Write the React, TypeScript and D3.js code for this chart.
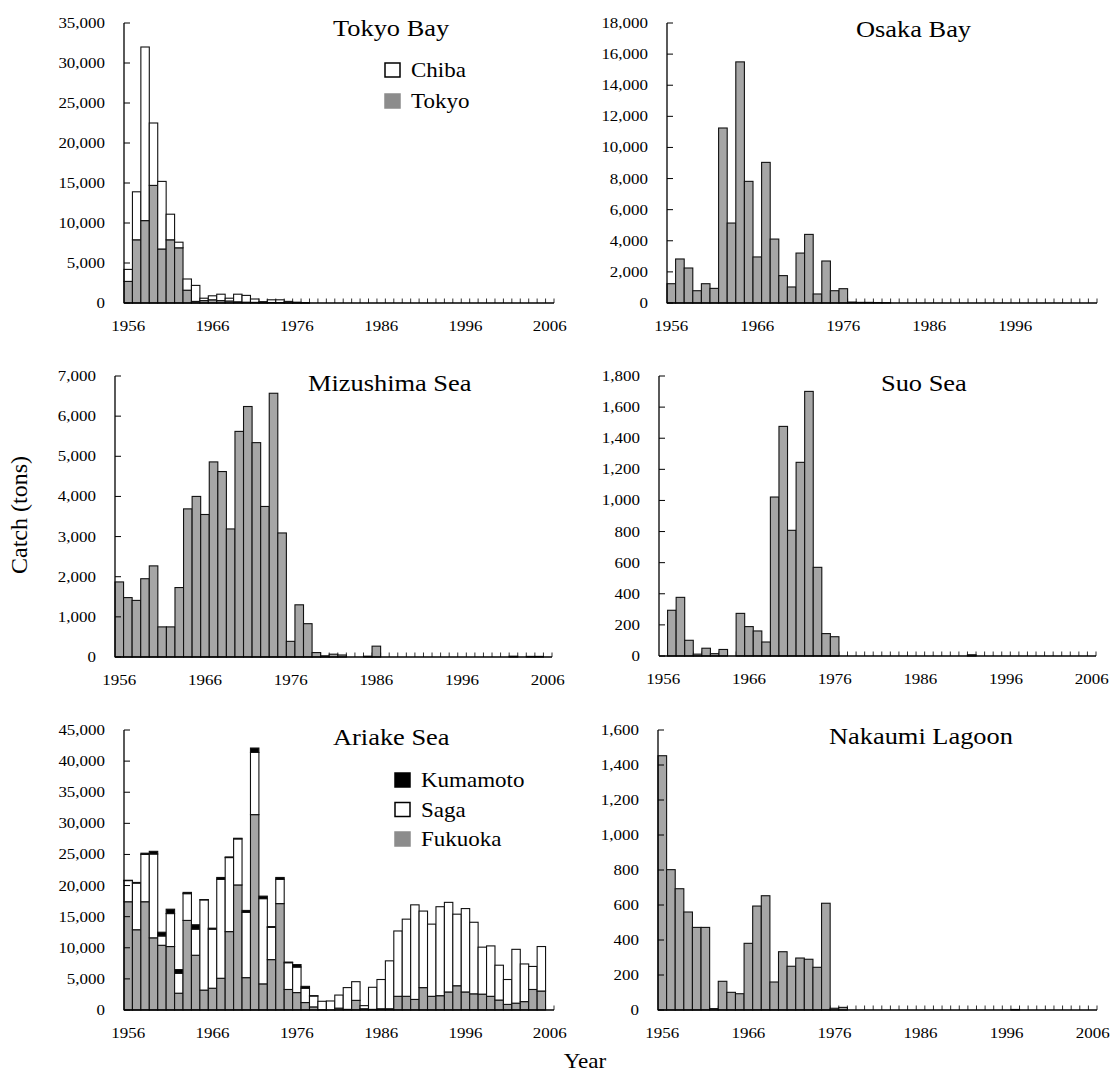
import React from "react";
import * as d3 from "d3";

const years = d3.range(1956, 2007).map(String);
const yearsOsaka = d3.range(1956, 2006).map(String);
const xTickYears = ["1956", "1966", "1976", "1986", "1996", "2006"];

// Tokyo Bay (tons)
const tokyoTokyo = [2700, 7900, 10300, 14700, 6750, 7900, 6900, 1600, 200, 300, 400, 300, 250, 150, 100, 80, 50, 60, 50, 30, 20, 10];
const tokyoChiba = [1500, 6000, 21700, 7800, 8450, 3200, 700, 1400, 2000, 300, 500, 800, 350, 950, 850, 420, 120, 340, 350, 170, 80, 40];

// Osaka Bay
const osaka = [1240, 2830, 2250, 790, 1240, 940, 11250, 5140, 15500, 7820, 2960, 9040, 4110, 1760, 1030, 3210, 4410, 580, 2700, 790, 920, 60, 40, 40, 30, 20];

// Mizushima Sea
const mizushima = [1870, 1480, 1410, 1950, 2270, 750, 750, 1730, 3690, 4000, 3550, 4860, 4620, 3190, 5620, 6240, 5340, 3750, 6570, 3090, 390, 1300, 830, 110, 30, 70, 50, 0, 0, 20, 270, 0, 0, 0, 0, 0, 0, 0, 0, 0, 0, 0, 0, 0, 0, 0, 20, 0, 15, 15, 0];

// Suo Sea
const suo = [0, 294, 377, 101, 12, 50, 15, 42, 0, 274, 189, 161, 90, 1022, 1476, 808, 1245, 1701, 570, 144, 124, 0, 0, 0, 0, 0, 0, 0, 0, 0, 0, 0, 0, 0, 0, 0, 8];

// Ariake Sea
const ariakeFukuoka = [17400, 12900, 17400, 11600, 10400, 10200, 2700, 14400, 8800, 3200, 3500, 5100, 12600, 20100, 5200, 31400, 4200, 8100, 17100, 3300, 2800, 1200, 500, 50, 0, 300, 100, 1550, 200, 100, 200, 200, 2200, 2200, 1700, 3600, 2200, 2300, 2900, 3900, 2900, 2600, 2550, 2200, 1600, 900, 1100, 1350, 3300, 3050, 0];
const ariakeSaga = [3400, 7500, 7600, 13470, 1500, 5300, 3200, 4300, 4200, 14500, 9500, 15900, 11900, 7400, 10500, 10000, 13700, 5200, 3900, 4300, 4100, 2300, 1750, 1350, 1450, 2100, 3500, 3000, 500, 3550, 4700, 7700, 10500, 12400, 15200, 12300, 11600, 14300, 14400, 11500, 13400, 11500, 7550, 8100, 5600, 4000, 8650, 6050, 3700, 7150, 0];
const ariakeKumamoto = [50, 100, 200, 430, 600, 700, 600, 200, 700, 50, 150, 300, 100, 100, 300, 700, 400, 100, 300, 100, 400, 300, 50];

// Nakaumi Lagoon
const nakaumi = [1453, 802, 693, 560, 472, 472, 8, 164, 101, 93, 381, 594, 653, 160, 333, 250, 297, 290, 244, 610, 10, 15, 0, 0, 0, 0, 0, 0, 0, 0, 0, 0, 0, 0, 0, 0, 0, 0, 0, 0, 0, 3];

const FONT = "'Liberation Serif', 'Times New Roman', serif";
const GRAY = "#a6a6a6";
const SX = 1.13;

type Series = { values: number[]; fill: string };
type LegendItem = { label: string; fill: string; stroke: string };

function SText({ x, y, size, anchor = "start", sx = SX, children }: any) {
  return (
    <text transform={`translate(${x},${y}) scale(${sx},1)`} fontFamily={FONT} fontSize={size} textAnchor={anchor} fill="#000">
      {children}
    </text>
  );
}

function Panel(props: {
  left: number; right: number; top: number; bottom: number;
  yMax: number; yStep: number; cats: string[]; series: Series[];
  title: string; tx: number; ty: number;
  legend?: LegendItem[]; lx?: number; ly?: number; lgap?: number;
}) {
  const { left, right, top, bottom, yMax, yStep, cats, series, title, tx, ty, legend, lx = 0, ly = 0, lgap = 30 } = props;
  const x = d3.scaleBand<string>().domain(cats).range([left, right]).padding(0);
  const y = d3.scaleLinear().domain([0, yMax]).range([bottom, top]);
  const yTicks = d3.range(0, yMax + yStep / 2, yStep);
  const fmt = d3.format(",");
  const bw = x.bandwidth();

  const stacked: { x: number; y0: number; y1: number; fill: string; key: string }[] = [];
  cats.forEach((c, i) => {
    let acc = 0;
    series.forEach((s, si) => {
      const v = s.values[i] || 0;
      if (v > 0) {
        stacked.push({ x: x(c)!, y0: acc, y1: acc + v, fill: s.fill, key: `${c}-${si}` });
      }
      acc += v;
    });
  });

  return (
    <g>
      {cats.map((c, i) => (
        <line key={"xt" + i} x1={x(c)! + bw} x2={x(c)! + bw} y1={bottom} y2={bottom - 4.5} stroke="#333" strokeWidth={1} />
      ))}
      {stacked.map((b) => (
        <rect key={b.key} x={b.x} width={bw} y={y(b.y1)} height={Math.max(0, y(b.y0) - y(b.y1))}
          fill={b.fill} stroke="#111" strokeWidth={1.1} />
      ))}
      {yTicks.map((t) => (
        <g key={"yt" + t}>
          <line x1={left} x2={left + 6} y1={y(t)} y2={y(t)} stroke="#000" strokeWidth={1} />
          <SText x={left - 19} y={y(t) + 5} size={15} anchor="end">{fmt(t)}</SText>
        </g>
      ))}
      <line x1={left} x2={left} y1={top} y2={bottom} stroke="#000" strokeWidth={1.3} />
      <line x1={left} x2={right} y1={bottom} y2={bottom} stroke="#000" strokeWidth={1.3} />
      {xTickYears.filter((yy) => cats.includes(yy)).map((yy) => (
        <SText key={"xl" + yy} x={x(yy)! + bw / 2} y={bottom + 28} size={15} anchor="middle">{yy}</SText>
      ))}
      <SText x={tx} y={ty} size={24} sx={1.1}>{title}</SText>
      {legend && legend.map((l, i) => (
        <g key={"lg" + i}>
          <rect x={lx} y={ly + i * lgap} width={15} height={14} fill={l.fill} stroke={l.stroke} strokeWidth={1.5} />
          <SText x={lx + 26} y={ly + i * lgap + 14} size={20} sx={1.15}>{l.label}</SText>
        </g>
      ))}
    </g>
  );
}

export default function App() {
  return (
    <svg width={1112} height={1077} style={{ display: "block", position: "absolute", left: 0, top: 0 }}>
      <rect width={1112} height={1077} fill="#fff" />
      <Panel left={124} right={554} top={23} bottom={303} yMax={35000} yStep={5000} cats={years}
        series={[{ values: tokyoTokyo, fill: GRAY }, { values: tokyoChiba, fill: "#fff" }]}
        title="Tokyo Bay" tx={333} ty={36}
        legend={[{ label: "Chiba", fill: "#fff", stroke: "#000" }, { label: "Tokyo", fill: "#8c8c8c", stroke: "#8c8c8c" }]}
        lx={385} ly={63} lgap={31} />
      <Panel left={667} right={1097} top={23} bottom={303} yMax={18000} yStep={2000} cats={yearsOsaka}
        series={[{ values: osaka, fill: GRAY }]} title="Osaka Bay" tx={856} ty={37} />
      <Panel left={115} right={552} top={376} bottom={657} yMax={7000} yStep={1000} cats={years}
        series={[{ values: mizushima, fill: GRAY }]} title="Mizushima Sea" tx={308} ty={391} />
      <Panel left={659} right={1096} top={376} bottom={656} yMax={1800} yStep={200} cats={years}
        series={[{ values: suo, fill: GRAY }]} title="Suo Sea" tx={881} ty={391} />
      <Panel left={124} right={554} top={730} bottom={1010} yMax={45000} yStep={5000} cats={years}
        series={[{ values: ariakeFukuoka, fill: GRAY }, { values: ariakeSaga, fill: "#fff" }, { values: ariakeKumamoto, fill: "#000" }]}
        title="Ariake Sea" tx={333} ty={745}
        legend={[{ label: "Kumamoto", fill: "#000", stroke: "#000" }, { label: "Saga", fill: "#fff", stroke: "#000" }, { label: "Fukuoka", fill: "#8c8c8c", stroke: "#8c8c8c" }]}
        lx={395} ly={773} lgap={29.5} />
      <Panel left={658} right={1097} top={730} bottom={1010} yMax={1600} yStep={200} cats={years}
        series={[{ values: nakaumi, fill: GRAY }]} title="Nakaumi Lagoon" tx={829} ty={744} />
      <text transform="translate(27,515) rotate(-90)" fontFamily={FONT} fontSize={24} textAnchor="middle">Catch (tons)</text>
      <SText x={585} y={1068} size={21} anchor="middle" sx={1.1}>Year</SText>
    </svg>
  );
}
